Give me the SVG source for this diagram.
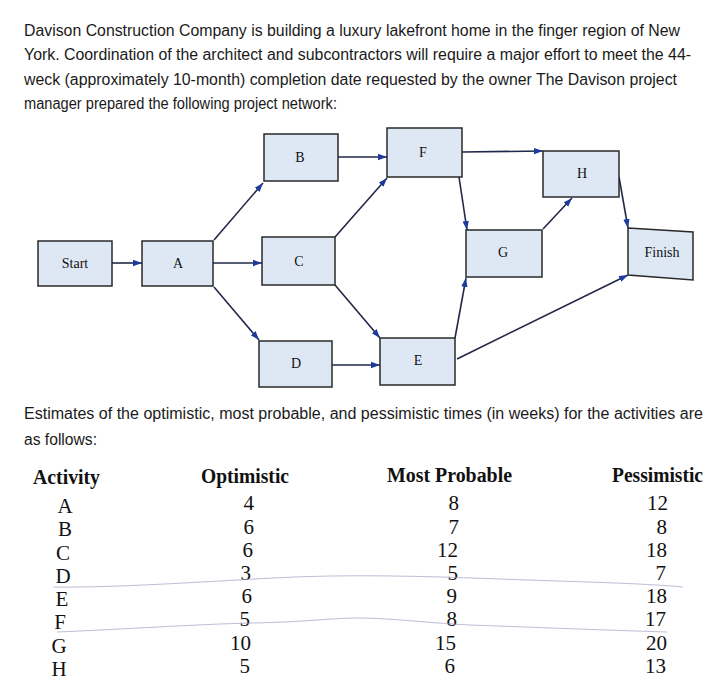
<svg xmlns="http://www.w3.org/2000/svg" width="718" height="682" viewBox="0 0 718 682">
<style>
.p{font-family:"Liberation Sans",Arial,sans-serif;font-size:16px;fill:#1a1a1a}
.box{fill:#dee8f5;stroke:#2a2a2a;stroke-width:1.5}
.lb{font-family:"Liberation Serif","Times New Roman",serif;font-size:14px;fill:#111;text-anchor:middle}
.e{stroke:#22284a;stroke-width:1.6;fill:none;marker-end:url(#ah)}
.h{font-family:"Liberation Serif","Times New Roman",serif;font-size:20px;font-weight:bold;fill:#111}
.t{font-family:"Liberation Serif","Times New Roman",serif;font-size:21px;fill:#111}
.c{text-anchor:middle}
.r{text-anchor:end}
.pen{stroke:#9ca4c0;stroke-width:1;fill:none;opacity:0.7}
</style>
<defs>
<marker id="ah" markerUnits="userSpaceOnUse" markerWidth="10" markerHeight="8" refX="9" refY="4" orient="auto">
<path d="M0,0.8 L9,4 L0,7.2 Z" fill="#1d3a9c"/>
</marker>
</defs>
<rect width="718" height="682" fill="#ffffff"/>
<g id="intro">
<text class="p" x="24" y="36" textLength="656" lengthAdjust="spacingAndGlyphs">Davison Construction Company is building a luxury lakefront home in the finger region of New</text>
<text class="p" x="24" y="60" textLength="667" lengthAdjust="spacingAndGlyphs">York. Coordination of the architect and subcontractors will require a major effort to meet the 44-</text>
<text class="p" x="24" y="85" textLength="653" lengthAdjust="spacingAndGlyphs">weck (approximately 10-month) completion date requested by the owner The Davison project</text>
<text class="p" x="24" y="109" textLength="313" lengthAdjust="spacingAndGlyphs">manager prepared the following project network:</text>
</g>
<g id="connectors">
<line class="e" x1="112" y1="263" x2="142" y2="263"/>
<line class="e" x1="214" y1="240" x2="263" y2="183"/>
<line class="e" x1="213" y1="263" x2="262" y2="263"/>
<line class="e" x1="214" y1="287" x2="259" y2="340"/>
<line class="e" x1="338" y1="157" x2="387" y2="157"/>
<line class="e" x1="335" y1="237" x2="387" y2="178"/>
<line class="e" x1="335" y1="285" x2="380" y2="338"/>
<line class="e" x1="332" y1="365" x2="380" y2="365"/>
<line class="e" x1="462" y1="152" x2="543" y2="151"/>
<line class="e" x1="459" y1="177" x2="467" y2="230"/>
<line class="e" x1="543" y1="229" x2="572" y2="198"/>
<line class="e" x1="455" y1="338" x2="466" y2="278"/>
<line class="e" x1="457" y1="359" x2="628" y2="275"/>
<line class="e" x1="619" y1="177" x2="628" y2="228"/>
</g>
<g id="node-start"><rect class="box" x="38" y="241" width="74" height="45"/><text class="lb" x="75" y="268">Start</text></g>
<g id="node-A"><rect class="box" x="142" y="241" width="71" height="45"/><text class="lb" x="178" y="268">A</text></g>
<g id="node-B"><rect class="box" x="264" y="134" width="74" height="47"/><text class="lb" x="300" y="162">B</text></g>
<g id="node-C"><rect class="box" x="262" y="237" width="73" height="48"/><text class="lb" x="299" y="266">C</text></g>
<g id="node-D"><rect class="box" x="259" y="341" width="73" height="46"/><text class="lb" x="296" y="368">D</text></g>
<g id="node-F"><rect class="box" x="387" y="128" width="75" height="49"/><text class="lb" x="423" y="157">F</text></g>
<g id="node-H"><rect class="box" x="543" y="151" width="76" height="46"/><text class="lb" x="582" y="178">H</text></g>
<g id="node-G"><rect class="box" x="466" y="230" width="76" height="47"/><text class="lb" x="503" y="257">G</text></g>
<g id="node-finish"><polygon class="box" points="628,228 693,232 693,280 628,275"/><text class="lb" x="662" y="257">Finish</text></g>
<g id="node-E"><rect class="box" x="380" y="338" width="75" height="47"/><text class="lb" x="418" y="365">E</text></g>
<g id="estimates">
<text class="p" x="24" y="419" textLength="679" lengthAdjust="spacingAndGlyphs">Estimates of the optimistic, most probable, and pessimistic times (in weeks) for the activities are</text>
<text class="p" x="24" y="445" textLength="73" lengthAdjust="spacingAndGlyphs">as follows:</text>
</g>
<g id="table">
<text class="h" x="33" y="484" textLength="67" lengthAdjust="spacingAndGlyphs">Activity</text>
<text class="h" x="201" y="483" textLength="88" lengthAdjust="spacingAndGlyphs">Optimistic</text>
<text class="h" x="387" y="482" textLength="125" lengthAdjust="spacingAndGlyphs">Most Probable</text>
<text class="h" x="612" y="482" textLength="91" lengthAdjust="spacingAndGlyphs">Pessimistic</text>
<text class="t c" x="65" y="513">A</text>
<text class="t c" x="65" y="536">B</text>
<text class="t c" x="63" y="560">C</text>
<text class="t c" x="63" y="583">D</text>
<text class="t c" x="62" y="606">E</text>
<text class="t c" x="60" y="629">F</text>
<text class="t c" x="59" y="653">G</text>
<text class="t c" x="59" y="676">H</text>
<text class="t r" x="254" y="510">4</text>
<text class="t r" x="254" y="534">6</text>
<text class="t r" x="253" y="557">6</text>
<text class="t r" x="251" y="580">3</text>
<text class="t r" x="252" y="603">6</text>
<text class="t r" x="250" y="626">5</text>
<text class="t r" x="251" y="650">10</text>
<text class="t r" x="250" y="673">5</text>
<text class="t r" x="459" y="510">8</text>
<text class="t r" x="459" y="534">7</text>
<text class="t r" x="458" y="557">12</text>
<text class="t r" x="458" y="580">5</text>
<text class="t r" x="457" y="603">9</text>
<text class="t r" x="457" y="626">8</text>
<text class="t r" x="456" y="650">15</text>
<text class="t r" x="455" y="673">6</text>
<text class="t r" x="668" y="510">12</text>
<text class="t r" x="667" y="534">8</text>
<text class="t r" x="667" y="557">18</text>
<text class="t r" x="666" y="580">7</text>
<text class="t r" x="667" y="603">18</text>
<text class="t r" x="666" y="626">17</text>
<text class="t r" x="667" y="650">20</text>
<text class="t r" x="666" y="673">13</text>
<path class="pen" d="M53,587 C110,588 200,582 273,578 S420,576 500,579 S640,583 683,587"/>
<path class="pen" d="M57,632 C110,630 200,624 253,623 S330,618 360,618 S440,624 470,625 S600,630 667,632"/>
</g>
</svg>
